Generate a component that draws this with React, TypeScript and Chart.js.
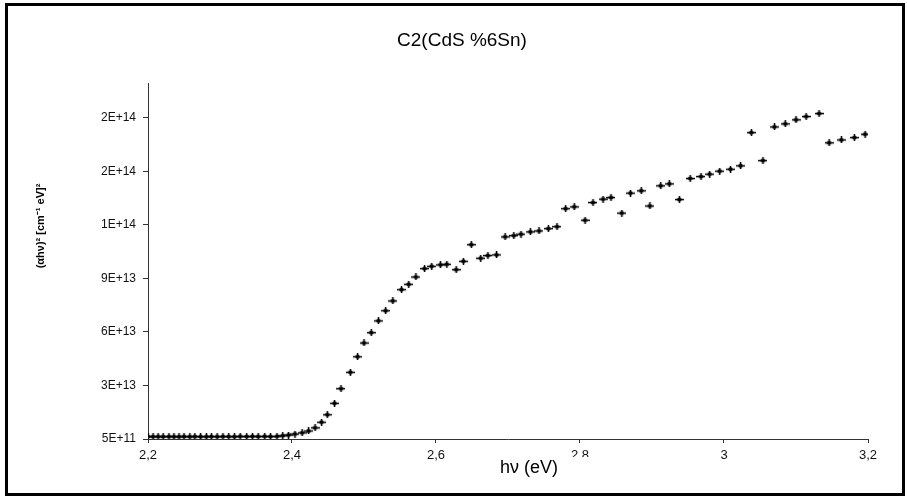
import React, { useEffect, useRef } from "react";
import { Chart, registerables } from "chart.js";

Chart.register(...registerables);

const chartTitle = "C2(CdS %6Sn)";
const xAxisTitle = "hν (eV)";
const yAxisTitle = "(αhν)² [cm⁻¹ eV]²";

const xTickValues = [2.2, 2.4, 2.6, 2.8, 3.0, 3.2];
const xTickLabels = ["2,2", "2,4", "2,6", "2,8", "3", "3,2"];
const yTickValues = [5e11, 3.05e13, 6.05e13, 9.05e13, 1.205e14, 1.505e14, 1.805e14];
const yTickLabels = ["5E+11", "3E+13", "6E+13", "9E+13", "1E+14", "2E+14", "2E+14"];

const energy = [
  2.200, 2.207, 2.214, 2.221, 2.229, 2.236, 2.243, 2.250, 2.258, 2.265,
  2.273, 2.281, 2.288, 2.296, 2.304, 2.312, 2.320, 2.328, 2.337, 2.345,
  2.353, 2.362, 2.370, 2.379, 2.387, 2.395, 2.404, 2.414, 2.423, 2.432,
  2.441, 2.449, 2.459, 2.468, 2.481, 2.491, 2.500, 2.510, 2.520, 2.530,
  2.540, 2.552, 2.562, 2.572, 2.584, 2.594, 2.606, 2.615, 2.628, 2.638,
  2.649, 2.662, 2.672, 2.684, 2.696, 2.708, 2.718, 2.731, 2.743, 2.756,
  2.768, 2.780, 2.792, 2.807, 2.818, 2.832, 2.843, 2.858, 2.870, 2.885,
  2.897, 2.912, 2.924, 2.938, 2.953, 2.968, 2.980, 2.994, 3.009, 3.023,
  3.038, 3.054, 3.070, 3.085, 3.100, 3.114, 3.132, 3.146, 3.163, 3.181,
  3.196,
];

const absorption = [
  1.9e12, 1.8e12, 1.9e12, 1.8e12, 1.9e12, 1.8e12, 1.8e12, 1.9e12, 1.8e12, 1.9e12,
  1.8e12, 1.8e12, 1.9e12, 1.8e12, 1.9e12, 1.9e12, 1.8e12, 2.0e12, 1.9e12, 2.0e12,
  1.9e12, 2.0e12, 1.9e12, 2.0e12, 2.35e12, 2.74e12, 3.3e12, 4.0e12, 5.0e12, 6.8e12,
  9.9e12, 1.41e13, 2.05e13, 2.87e13, 3.79e13, 4.66e13, 5.43e13, 6.01e13, 6.67e13, 7.24e13,
  7.79e13, 8.42e13, 8.72e13, 9.13e13, 9.60e13, 9.73e13, 9.81e13, 9.84e13, 9.54e13, 1.001e14,
  1.094e14, 1.018e14, 1.033e14, 1.037e14, 1.138e14, 1.145e14, 1.153e14, 1.166e14, 1.171e14, 1.184e14,
  1.195e14, 1.296e14, 1.306e14, 1.231e14, 1.330e14, 1.349e14, 1.358e14, 1.271e14, 1.383e14, 1.396e14,
  1.311e14, 1.424e14, 1.435e14, 1.347e14, 1.465e14, 1.476e14, 1.489e14, 1.506e14, 1.517e14, 1.536e14,
  1.722e14, 1.565e14, 1.754e14, 1.771e14, 1.794e14, 1.812e14, 1.829e14, 1.665e14, 1.681e14, 1.694e14,
  1.713e14,
];

const FONT = "Arial, 'Liberation Sans', sans-serif";

function makeMarker(): HTMLCanvasElement {
  const c = document.createElement("canvas");
  c.width = 9;
  c.height = 7;
  const g = c.getContext("2d")!;
  g.fillStyle = "#000";
  g.fillRect(0, 2.8, 9, 1.5);
  g.fillRect(3.8, 0, 1.5, 7);
  g.beginPath();
  g.moveTo(4.5, 1.0);
  g.lineTo(7.8, 3.5);
  g.lineTo(4.5, 6.0);
  g.lineTo(1.2, 3.5);
  g.closePath();
  g.fill();
  return c;
}

const textPlugin = {
  id: "textPlugin",
  afterDraw(chart: any) {
    const ctx = chart.ctx as CanvasRenderingContext2D;
    ctx.save();
    // chart title
    ctx.fillStyle = "#000";
    ctx.font = `19px ${FONT}`;
    ctx.textAlign = "center";
    ctx.textBaseline = "middle";
    ctx.fillText(chartTitle, 462, 41);
    // x axis title with white box (overlaps a tick label as in reference)
    ctx.fillStyle = "#fff";
    ctx.fillRect(486, 457, 114, 24);
    ctx.fillStyle = "#000";
    ctx.font = `18px ${FONT}`;
    ctx.fillText(xAxisTitle, 529, 468);
    // y axis title
    ctx.translate(41, 226);
    ctx.rotate(-Math.PI / 2);
    ctx.font = `bold 11px ${FONT}`;
    ctx.fillText(yAxisTitle, 0, 0);
    ctx.restore();
  },
};

export default function App() {
  const ref = useRef<HTMLCanvasElement>(null);

  useEffect(() => {
    if (!ref.current) return;
    const marker = makeMarker();
    const points = energy.map((x, i) => ({ x, y: absorption[i] }));
    const chart = new Chart(ref.current, {
      type: "scatter",
      data: {
        datasets: [
          {
            data: points,
            pointStyle: marker as any,
            pointRadius: 4,
            pointHoverRadius: 4,
            showLine: false,
          },
        ],
      },
      options: {
        animation: false,
        responsive: false,
        maintainAspectRatio: false,
        events: [],
        layout: { padding: { left: 0, right: 39, top: 83, bottom: 0 } },
        plugins: {
          legend: { display: false },
          tooltip: { enabled: false },
          title: { display: false },
        },
        scales: {
          x: {
            type: "linear",
            min: 2.2,
            max: 3.2,
            afterFit(scale: any) {
              scale.height = 58;
            },
            afterBuildTicks(scale: any) {
              scale.ticks = xTickValues.map((v) => ({ value: v }));
            },
            ticks: {
              font: { family: FONT, size: 13 },
              color: "#111",
              padding: 5,
              maxRotation: 0,
              autoSkip: false,
              callback: (_v: any, i: number) => xTickLabels[i],
            },
            grid: {
              display: true,
              drawOnChartArea: false,
              drawTicks: true,
              tickLength: 4,
              color: "#333",
              lineWidth: 1,
            },
            border: { display: true, color: "#333", width: 1 },
          },
          y: {
            type: "linear",
            min: 5e11,
            max: 2.0e14,
            afterFit(scale: any) {
              scale.width = 148;
            },
            afterBuildTicks(scale: any) {
              scale.ticks = yTickValues.map((v) => ({ value: v }));
            },
            ticks: {
              font: { family: FONT, size: 12 },
              color: "#111",
              padding: 7,
              autoSkip: false,
              callback: (_v: any, i: number) => yTickLabels[i],
            },
            grid: {
              display: true,
              drawOnChartArea: false,
              drawTicks: true,
              tickLength: 5,
              color: "#333",
              lineWidth: 1,
            },
            border: { display: true, color: "#333", width: 1 },
          },
        },
      },
      plugins: [textPlugin],
    });
    return () => chart.destroy();
  }, []);

  return (
    <div
      style={{
        position: "fixed",
        left: 0,
        top: 0,
        width: 907,
        height: 497,
        background: "#fff",
        overflow: "hidden",
      }}
    >
      <canvas ref={ref} width={907} height={497} style={{ position: "absolute", left: 0, top: 0 }} />
      <div
        style={{
          position: "absolute",
          left: 5,
          top: 3,
          width: 900,
          height: 493,
          border: "3px solid #000",
          boxSizing: "border-box",
          pointerEvents: "none",
        }}
      />
    </div>
  );
}
